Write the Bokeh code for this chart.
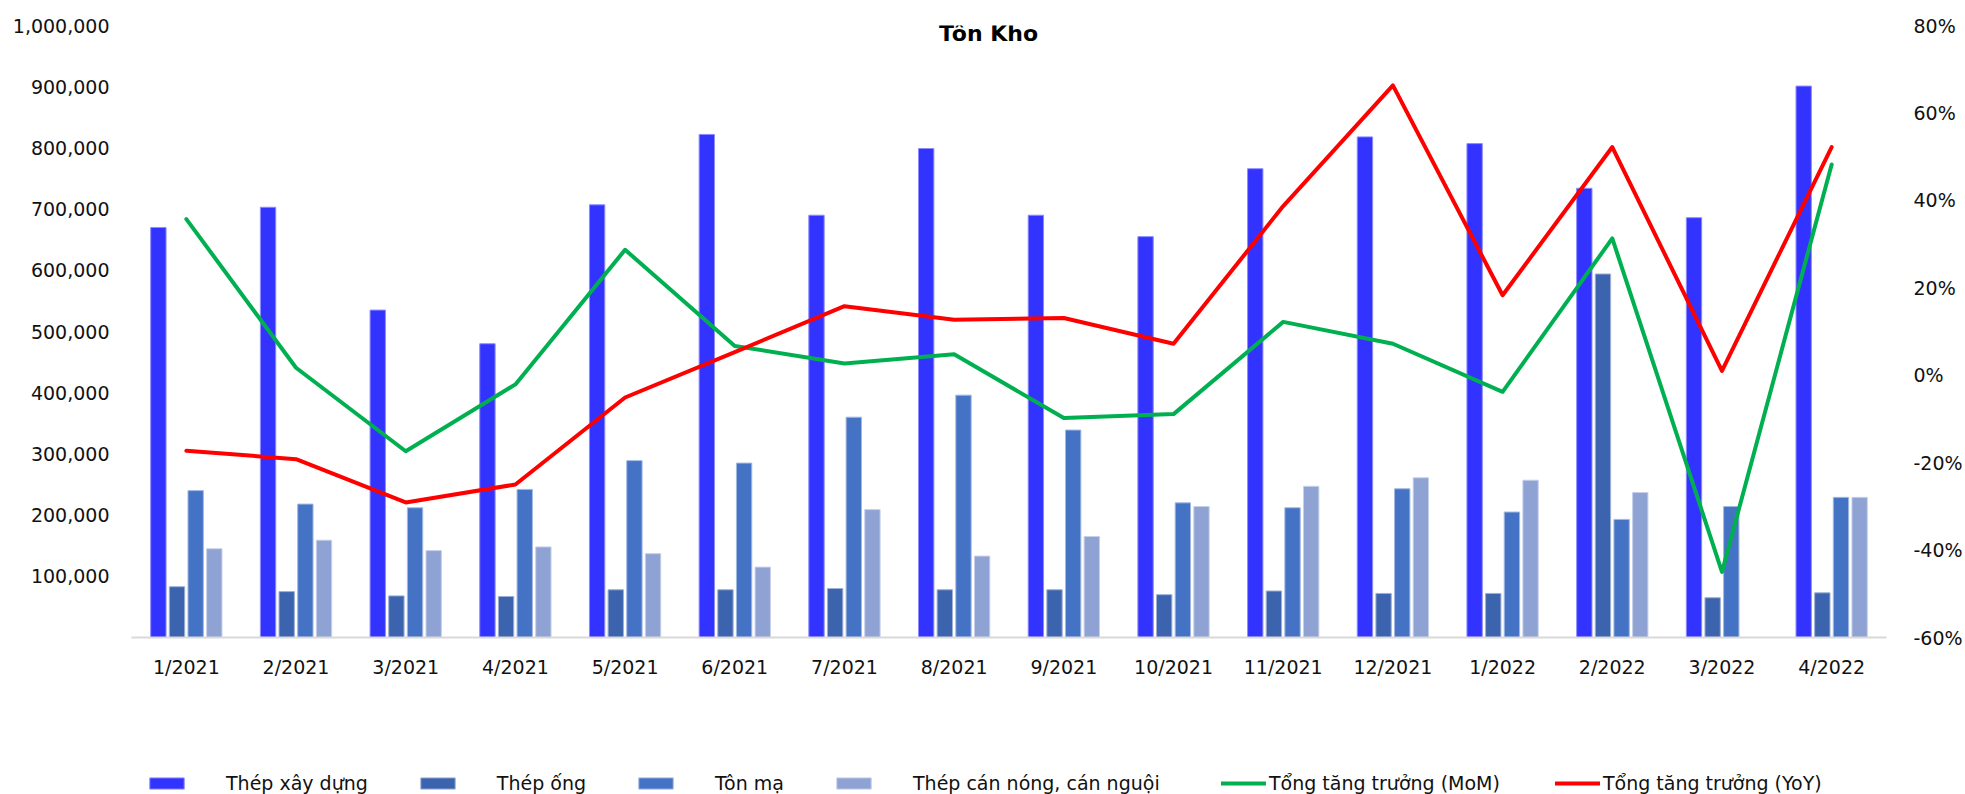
from bokeh.plotting import figure
from bokeh.layouts import column
from bokeh.models import (ColumnDataSource, FactorRange, Range1d, LinearAxis, FixedTicker,
                          NumeralTickFormatter, PrintfTickFormatter, Legend, LegendItem, Label)
from bokeh.transform import dodge
from bokeh.embed import file_html
from bokeh.resources import INLINE

# Monthly inventory (tonnes) by product group, plus total growth rates (%)
months = ["1/2021", "2/2021", "3/2021", "4/2021", "5/2021", "6/2021", "7/2021", "8/2021",
          "9/2021", "10/2021", "11/2021", "12/2021", "1/2022", "2/2022", "3/2022", "4/2022"]
thep_xay_dung = [670000, 703000, 535000, 480000, 707000, 822000, 690000, 799000,
                 690000, 655000, 766000, 818000, 807000, 734000, 686000, 901000]
thep_ong = [83000, 75000, 68000, 67000, 78000, 78000, 80000, 78000,
            78000, 70000, 76000, 72000, 72000, 594000, 65000, 73000]
ton_ma = [240000, 218000, 212000, 242000, 289000, 285000, 360000, 396000,
          339000, 220000, 212000, 243000, 205000, 193000, 214000, 229000]
thep_can = [145000, 159000, 142000, 148000, 137000, 115000, 209000, 133000,
            165000, 214000, 247000, 261000, 257000, 237000, float("nan"), 229000]
tang_truong_mom = [35.7, 1.7, -17.4, -2.1, 28.7, 6.7, 2.7, 4.8,
                   -9.8, -8.9, 12.2, 7.2, -3.8, 31.3, -45.0, 48.2]
tang_truong_yoy = [-17.3, -19.2, -29.1, -25.0, -5.1, 5.3, 15.8, 12.7,
                   13.1, 7.2, 38.7, 66.3, 18.3, 52.2, 1.0, 52.2]

series_names = ["Thép xây dựng", "Thép ống", "Tôn mạ", "Thép cán nóng, cán nguội",
                "Tổng tăng trưởng (MoM)", "Tổng tăng trưởng (YoY)"]

left_ticks = [100000, 200000, 300000, 400000, 500000, 600000, 700000, 800000, 900000, 1000000]
right_ticks = [-60, -40, -20, 0, 20, 40, 60, 80]

source = ColumnDataSource(dict(month=months, xd=thep_xay_dung, ong=thep_ong, ton=ton_ma,
                               can=thep_can, mom=tang_truong_mom, yoy=tang_truong_yoy))

TICK_FONT = "DejaVu Sans"

BAR_STYLES = [("xd", -0.255, "#3333FF", "#8c8cff"),
              ("ong", -0.085, "#3C63AD", "#9db0d6"),
              ("ton", 0.085, "#4472C4", "#a2b8e1"),
              ("can", 0.255, "#8FA2D4", "#c7d0ea")]
LINE_STYLES = [("mom", "#00B050"), ("yoy", "#FF0000")]
BAR_W = 0.14
FRAME_LEFT = 131

p = figure(width=1965, height=680, x_range=FactorRange(factors=months),
           y_range=Range1d(0, 1000000), output_backend="svg", toolbar_location=None,
           title=None, min_border_left=FRAME_LEFT, min_border_right=77, min_border_top=25,
           min_border_bottom=41, outline_line_color=None, background_fill_color="white",
           border_fill_color="white")
p.extra_y_ranges = {"pct": Range1d(-60, 80)}

p.xgrid.visible = False
p.ygrid.visible = False

# Left axis
p.yaxis.ticker = FixedTicker(ticks=left_ticks)
p.yaxis.formatter = NumeralTickFormatter(format="0,0")
p.yaxis.axis_line_color = None
p.yaxis.major_tick_line_color = None
p.yaxis.minor_tick_line_color = None
p.yaxis.major_tick_out = 0
p.yaxis.major_label_standoff = 22
p.yaxis.major_label_text_font = TICK_FONT
p.yaxis.major_label_text_font_size = "19px"
p.yaxis.major_label_text_color = "#111111"

# Right axis (percent)
ax_r = LinearAxis(y_range_name="pct", ticker=FixedTicker(ticks=right_ticks),
                  formatter=PrintfTickFormatter(format="%d%%"))
ax_r.axis_line_color = None
ax_r.major_tick_line_color = None
ax_r.minor_tick_line_color = None
ax_r.major_tick_out = 0
ax_r.major_label_standoff = 27
ax_r.major_label_text_font = TICK_FONT
ax_r.major_label_text_font_size = "19px"
ax_r.major_label_text_color = "#111111"
p.add_layout(ax_r, "right")

# Category axis
p.xaxis.axis_line_color = "#d9d9d9"
p.xaxis.axis_line_width = 2
p.xaxis.major_tick_line_color = None
p.xaxis.minor_tick_line_color = None
p.xaxis.major_tick_out = 0
p.xaxis.major_label_standoff = 18
p.xaxis.major_label_text_font = TICK_FONT
p.xaxis.major_label_text_font_size = "19px"
p.xaxis.major_label_text_color = "#111111"

for col, off, fill, edge in BAR_STYLES:
    p.vbar(x=dodge("month", off, range=p.x_range), top=col, width=BAR_W, source=source,
           fill_color=fill, line_color=edge, line_width=1)

for col, color in LINE_STYLES:
    p.line(x="month", y=col, source=source, y_range_name="pct",
           line_color=color, line_width=4, line_join="round", line_cap="round")

title = Label(x=857, y=604, x_units="screen", y_units="screen", text="Tôn Kho",
              text_font="DejaVu Sans", text_font_style="bold",
              text_font_size="22px", text_align="center", text_baseline="middle",
              text_color="#000000")
p.add_layout(title)

# Legend strip underneath the chart (its frame lines up with the chart frame)
leg = figure(width=1965, height=114, x_range=Range1d(0, 1965), y_range=Range1d(0, 114),
             output_backend="svg", toolbar_location=None, title=None,
             x_axis_location=None, y_axis_location=None,
             min_border=0, outline_line_color=None, background_fill_color="white",
             border_fill_color="white")
leg.grid.visible = False

nan = float("nan")
bar_items = []
for (col, off, fill, edge), name in zip(BAR_STYLES, series_names[:4]):
    r = leg.vbar(x=[nan], top=[nan], width=1, fill_color=fill, line_color=edge, line_width=1)
    bar_items.append(LegendItem(label=name, renderers=[r]))
line_items = []
for (col, color), name in zip(LINE_STYLES, series_names[4:]):
    r = leg.line(x=[nan], y=[nan], line_color=color, line_width=4, line_cap="round")
    line_items.append(LegendItem(label=name, renderers=[r]))

common = dict(orientation="horizontal", margin=0, padding=0,
              glyph_height=14, label_text_font=TICK_FONT, label_text_font_size="19px",
              label_text_color="#111111", border_line_color=None, background_fill_alpha=0)
leg.add_layout(Legend(items=bar_items, location=(145 - FRAME_LEFT, 0), glyph_width=43,
                      label_standoff=38, spacing=48, **common), "center")
leg.add_layout(Legend(items=line_items, location=(1221 - FRAME_LEFT, 0), glyph_width=45,
                      label_standoff=3, spacing=55, **common), "center")

layout = column(p, leg, spacing=0)
open("out.html", "w").write(file_html(layout, INLINE))
